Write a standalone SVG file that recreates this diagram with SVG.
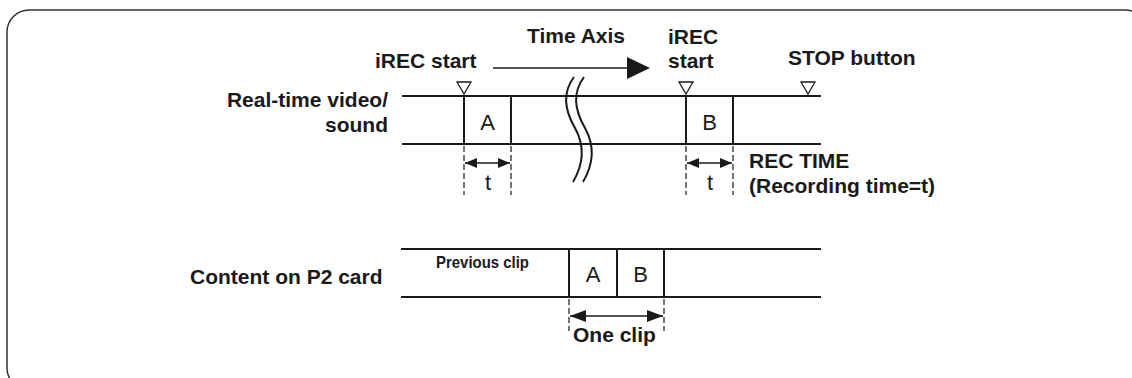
<svg xmlns="http://www.w3.org/2000/svg" width="1132" height="378" viewBox="0 0 1132 378">
<style>
.b{font-family:"Liberation Sans",Arial,sans-serif;font-weight:bold;font-size:21px;fill:#1a1a1a}
.r{font-family:"Liberation Sans",Arial,sans-serif;font-size:22px;fill:#1a1a1a}
.pc{font-family:"Liberation Sans",Arial,sans-serif;font-weight:bold;font-size:17px;fill:#1a1a1a}
.ln{stroke:#1a1a1a;stroke-width:2;fill:none}
.th{stroke:#1a1a1a;stroke-width:1.5;fill:none}
.dash{stroke:#1a1a1a;stroke-width:1.2;stroke-dasharray:6 3;fill:none}
.tri{fill:#fff;stroke:#1a1a1a;stroke-width:1.3}
.wave{stroke:#1a1a1a;stroke-width:2;fill:none}
</style>
<defs>
<marker id="ah" viewBox="0 0 12 10" refX="12" refY="5" markerWidth="12" markerHeight="10" markerUnits="userSpaceOnUse" orient="auto-start-reverse">
<path d="M0,0 L12,5 L0,10 Z" fill="#1a1a1a"/>
</marker>
<marker id="ah2" viewBox="0 0 16 12" refX="16" refY="6" markerWidth="16" markerHeight="12" markerUnits="userSpaceOnUse" orient="auto-start-reverse">
<path d="M0,0 L16,6 L0,12 Z" fill="#1a1a1a"/>
</marker>
</defs>
<rect id="frame" x="7" y="10" width="1140" height="380" rx="22" ry="22" fill="none" stroke="#333" stroke-width="1.5"/>

<g id="time-axis">
<text class="b" x="527" y="43">Time Axis</text>
<line class="th" x1="493" y1="68" x2="628" y2="68"/>
<polygon points="627,57 650,68 627,79" fill="#1a1a1a"/>
</g>

<g id="label-realtime">
<text class="b" x="388" y="107" text-anchor="end">Real-time video/</text>
<text class="b" x="388" y="132" text-anchor="end">sound</text>
</g>
<g id="label-p2">
<text class="b" x="190" y="284">Content on P2 card</text>
</g>

<g id="connectors">
<line class="ln" x1="402" y1="96" x2="821" y2="96"/>
<line class="ln" x1="402" y1="144" x2="821" y2="144"/>
<line class="ln" x1="401" y1="249" x2="821" y2="249"/>
<line class="ln" x1="401" y1="297" x2="821" y2="297"/>
<line class="dash" x1="464" y1="146" x2="464" y2="195"/>
<line class="dash" x1="511" y1="146" x2="511" y2="195"/>
<line class="dash" x1="686" y1="146" x2="686" y2="195"/>
<line class="dash" x1="733" y1="146" x2="733" y2="195"/>
<line class="dash" x1="569" y1="299" x2="569" y2="331"/>
<line class="dash" x1="664" y1="299" x2="664" y2="331"/>
<line class="th" x1="465" y1="163" x2="510" y2="163" marker-start="url(#ah)" marker-end="url(#ah)"/>
<line class="th" x1="687" y1="163" x2="732" y2="163" marker-start="url(#ah)" marker-end="url(#ah)"/>
<line class="th" x1="570" y1="316" x2="663" y2="316" marker-start="url(#ah2)" marker-end="url(#ah2)"/>
</g>

<g id="break">
<path class="wave" d="M574,77 C562,93 565,111 575,128 C585,146 583,165 573,182"/>
<path class="wave" d="M584,77 C572,93 575,111 585,128 C595,146 593,165 583,182"/>
</g>

<g id="irec-start-1">
<text class="b" x="375" y="68">iREC start</text>
<polygon class="tri" points="457,82 471,82 464,94"/>
</g>
<g id="irec-start-2">
<text class="b" x="668" y="44">iREC</text>
<text class="b" x="668" y="68">start</text>
<polygon class="tri" points="679,82 693,82 686,94"/>
</g>
<g id="stop-button">
<text class="b" x="788" y="65">STOP button</text>
<polygon class="tri" points="801,82 815,82 808,94"/>
</g>

<g id="clip-A">
<line class="ln" x1="464" y1="96" x2="464" y2="144"/>
<line class="ln" x1="511" y1="96" x2="511" y2="144"/>
<text class="r" x="487.5" y="130" text-anchor="middle">A</text>
<text class="r" x="488" y="190" text-anchor="middle">t</text>
</g>
<g id="clip-B">
<line class="ln" x1="686" y1="96" x2="686" y2="144"/>
<line class="ln" x1="733" y1="96" x2="733" y2="144"/>
<text class="r" x="709.5" y="130" text-anchor="middle">B</text>
<text class="r" x="710" y="190" text-anchor="middle">t</text>
</g>
<g id="rec-time">
<text class="b" x="749" y="168">REC TIME</text>
<text class="b" x="749" y="193">(Recording time=t)</text>
</g>

<g id="previous-clip">
<text class="pc" x="436" y="268" textLength="93" lengthAdjust="spacingAndGlyphs">Previous clip</text>
</g>
<g id="card-clips">
<line class="ln" x1="569" y1="249" x2="569" y2="297"/>
<line class="ln" x1="617" y1="249" x2="617" y2="297"/>
<line class="ln" x1="664" y1="249" x2="664" y2="297"/>
<text class="r" x="593" y="282" text-anchor="middle">A</text>
<text class="r" x="640.5" y="282" text-anchor="middle">B</text>
</g>
<g id="one-clip">
<text class="b" x="573" y="342">One clip</text>
</g>
</svg>
